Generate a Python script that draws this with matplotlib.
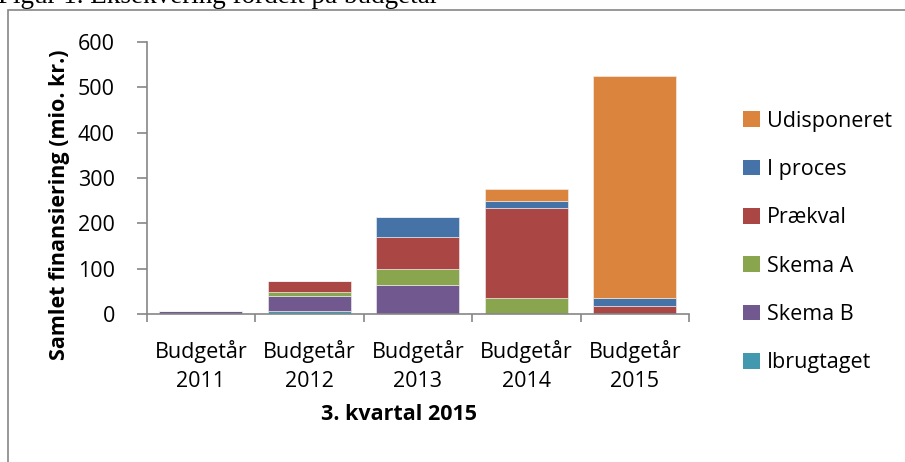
import matplotlib
matplotlib.use("Agg")
import matplotlib.pyplot as plt
from matplotlib.patches import Rectangle, Patch
import numpy as np

categories = ["Budgetår\n2011", "Budgetår\n2012", "Budgetår\n2013", "Budgetår\n2014", "Budgetår\n2015"]
series_names = ["Ibrugtaget", "Skema B", "Skema A", "Prækval", "I proces", "Udisponeret"]
ibrugtaget = [0.5, 6, 1, 0, 0]
skema_b = [7, 33, 64, 0, 0]
skema_a = [0, 10, 34, 36, 0]
praekval = [0, 24, 70, 197, 17]
i_proces = [0, 0, 45, 16, 19]
udisponeret = [0, 0, 0, 26, 488]
colors = ["#4198AF", "#71588F", "#89A54E", "#AA4643", "#4572A7", "#DB843D"]
yticks = [0, 100, 200, 300, 400, 500, 600]

series = [ibrugtaget, skema_b, skema_a, praekval, i_proces, udisponeret]

W, H = 905, 462
fig = plt.figure(figsize=(W / 100, H / 100), dpi=100)
FONT = "Open Sans"
FS = 15.5

ax = fig.add_axes([146.7 / W, 1 - 314 / H, (689 - 146.7) / W, (314 - 42) / H])
x = np.arange(len(categories))
bottom = np.zeros(len(categories))
for name, vals, c in zip(series_names, series, colors):
    v = np.array(vals, dtype=float)
    ax.bar(x, v, width=0.765, bottom=bottom, color=c, edgecolor="#f4f4f4",
           linewidth=0.4, label=name, zorder=2)
    bottom += v

ax.set_xlim(-0.5, len(categories) - 0.5)
ax.set_ylim(0, 600)
ax.set_yticks(yticks)
ax.set_yticklabels([str(t) for t in yticks], fontsize=FS, family=FONT)
ax.set_xticks(x)
ax.set_xticklabels(categories, fontsize=FS, family=FONT, linespacing=1.5)
ax.set_xticks(np.arange(-0.5, len(categories)), minor=True)
ax.tick_params(axis="x", which="major", length=0, pad=19)
ax.tick_params(axis="x", which="minor", length=6, color="#868686", width=1.2)
ax.tick_params(axis="y", length=7, color="#868686", width=1.2, pad=16)
for s in ["top", "right"]:
    ax.spines[s].set_visible(False)
for s in ["left", "bottom"]:
    ax.spines[s].set_color("#868686")
    ax.spines[s].set_linewidth(1.2)

fig.text(59 / W, 1 - 205 / H, "Samlet finansiering (mio. kr.)", rotation=90,
         ha="center", va="center", fontsize=15.5, fontweight="bold", family=FONT)
fig.text(399 / W, 1 - 414 / H, "3. kvartal 2015", ha="center", va="center",
         fontsize=15.5, fontweight="bold", family=FONT)

handles = [Patch(facecolor=c, edgecolor="none") for c in colors][::-1]
labels = series_names[::-1]
leg = fig.legend(handles, labels, loc="center left",
                 bbox_to_anchor=(724 / W, 1 - 242 / H), frameon=False,
                 prop={"family": FONT, "size": FS}, handlelength=0.75,
                 handleheight=0.75, handletextpad=0.35, labelspacing=1.27)

fig.patches.append(Rectangle((8 / W, -0.1), 1.2, 1 - 10 / H + 0.1,
                             transform=fig.transFigure, fill=False,
                             edgecolor="#868686", linewidth=1.2))
fig.text(-2 / W, 1 - 3 / H, "Figur 1. Eksekvering fordelt på budgetår",
         ha="left", va="baseline", fontsize=19.5, family="Liberation Serif")

fig.savefig("out.png", dpi=100)
